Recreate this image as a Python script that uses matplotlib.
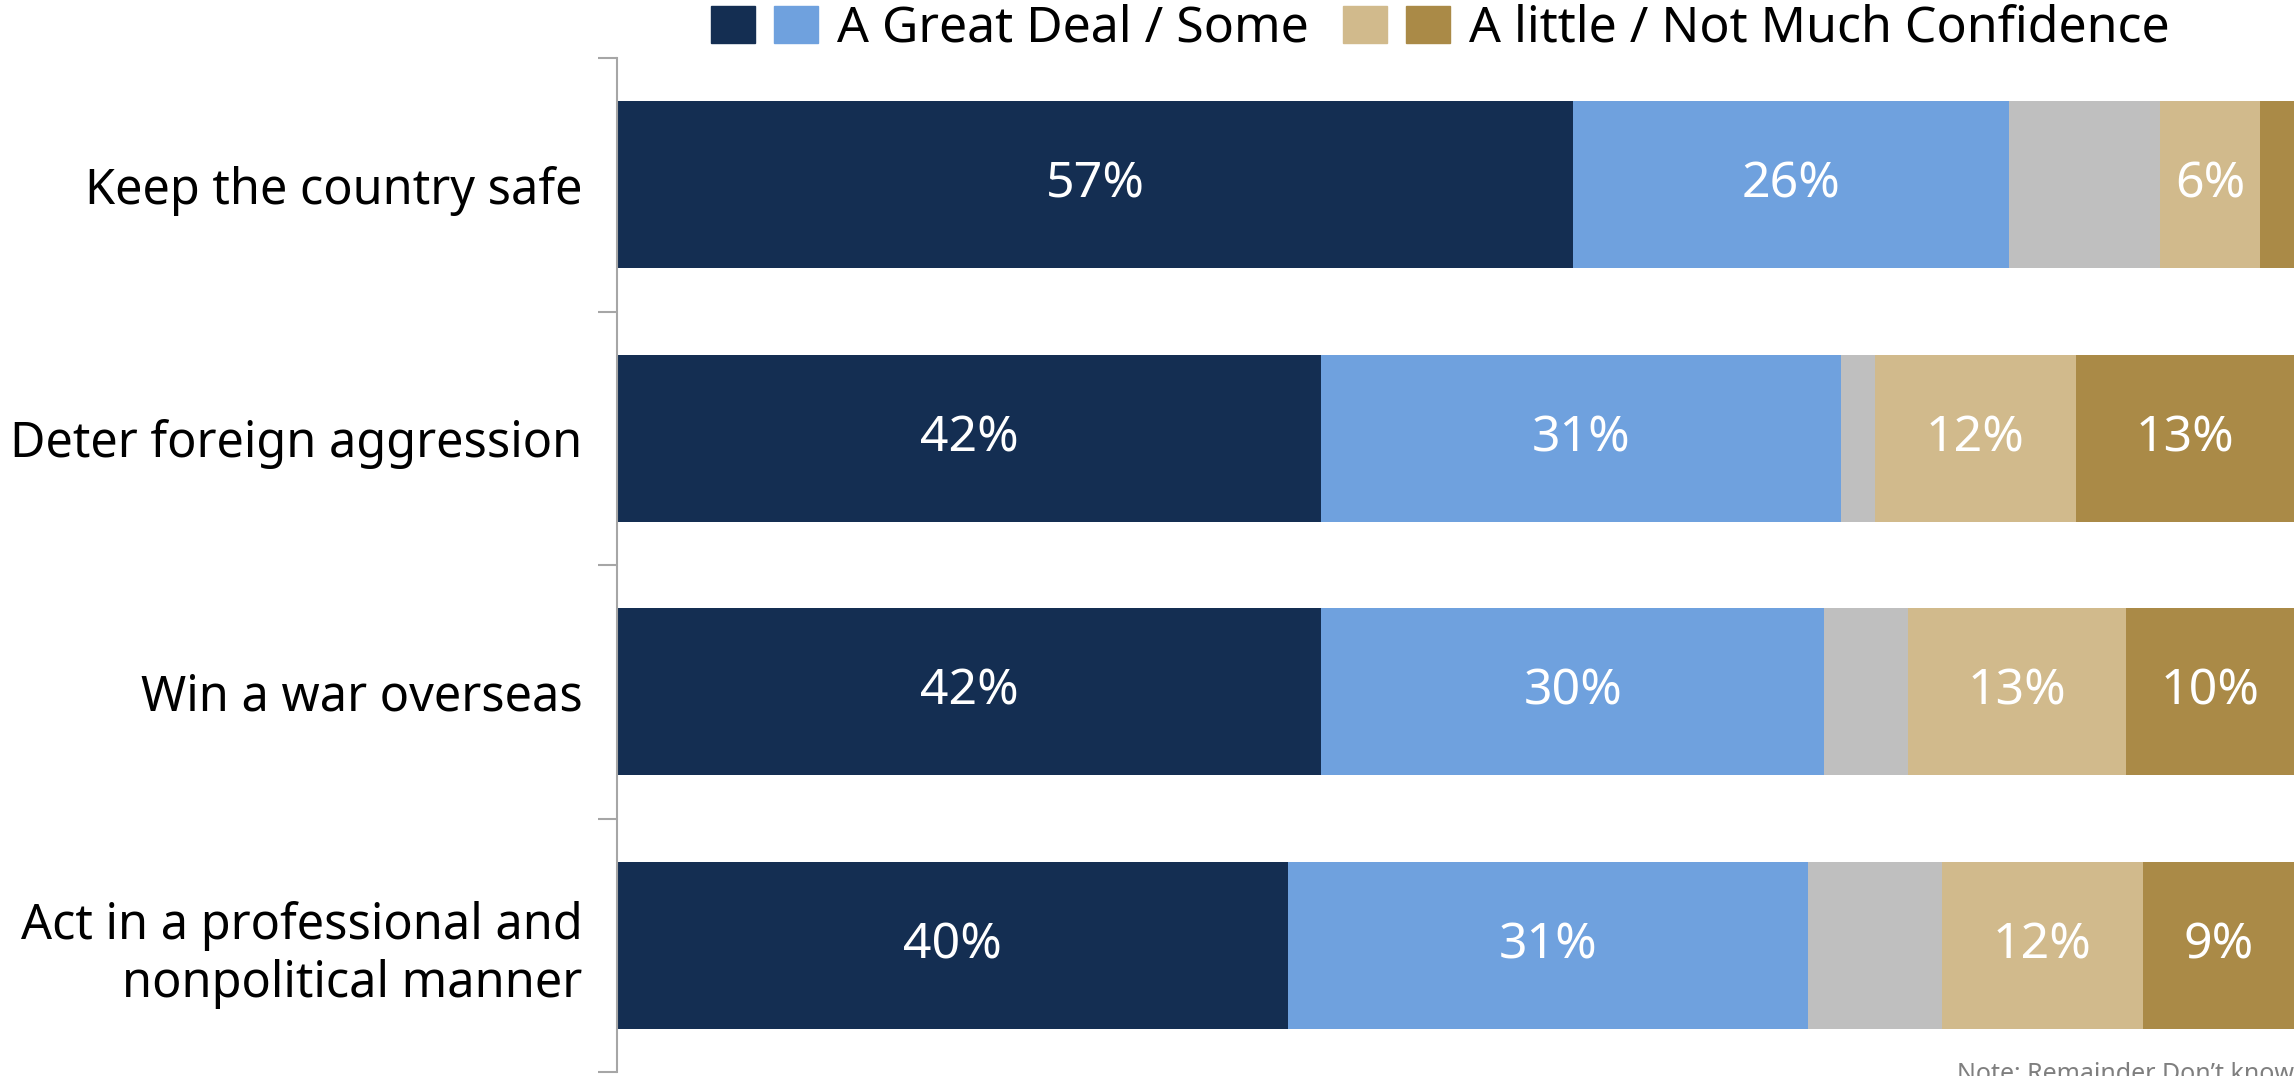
import matplotlib.pyplot as plt
from matplotlib.legend_handler import HandlerTuple
from matplotlib.patches import Patch

plt.rcParams['font.family'] = ['Noto Sans', 'DejaVu Sans']

categories = ['Keep the country safe', 'Deter foreign aggression',
              'Win a war overseas', 'Act in a professional and\nnonpolitical manner']
great_deal = [57, 42, 42, 40]
some = [26, 31, 30, 31]
dont_know = [9, 2, 5, 8]
a_little = [6, 12, 13, 12]
not_much = [2, 13, 10, 9]

series = [great_deal, some, dont_know, a_little, not_much]
colors = ['#142e52', '#6fa1de', '#bfbfbf', '#d1ba8c', '#aa8a47']
labelled = [True, True, False, True, True]

fig = plt.figure(figsize=(22.94, 10.76), dpi=100)
ax = fig.add_axes([617 / 2294, 4 / 1076, 1 - 617 / 2294, 1014 / 1076])

y = list(range(len(categories)))
left = [0] * len(categories)
for vals, col, lab in zip(series, colors, labelled):
    ax.barh(y, vals, left=left, height=0.66, color=col, edgecolor='none')
    if lab:
        for yi, l, v in zip(y, left, vals):
            if v >= 5:
                ax.text(l + v / 2, yi, f'{v}%', ha='center', va='center',
                        color='white', fontsize=36)
    left = [a + b for a, b in zip(left, vals)]

ax.set_xlim(0, 100)
ax.set_ylim(3.5, -0.5)
ax.set_xticks([])
ax.set_yticks(y)
ax.set_yticklabels(categories, fontsize=35, ha='right', multialignment='right')
ax.tick_params(axis='y', which='major', length=0, pad=25)
ax.set_yticks([-0.5, 0.5, 1.5, 2.5, 3.5], minor=True)
ax.tick_params(axis='y', which='minor', length=14, width=1.5, color='#a6a6a6')
for s in ['top', 'right', 'bottom']:
    ax.spines[s].set_visible(False)
ax.spines['left'].set_color('#a6a6a6')
ax.spines['left'].set_linewidth(1.5)

h1 = (Patch(color=colors[0]), Patch(color=colors[1]))
h2 = (Patch(color=colors[3]), Patch(color=colors[4]))
fig.legend([h1, h2], ['A Great Deal / Some', 'A little / Not Much Confidence'],
           handler_map={tuple: HandlerTuple(ndivide=None, pad=0.38)},
           loc='center', bbox_to_anchor=(1440 / 2294, 1 - 29 / 1076),
           ncol=2, frameon=False, fontsize=36, handlelength=2.14, handleheight=0.74,
           handletextpad=0.38, columnspacing=0.68, borderaxespad=0)

fig.text(1957 / 2294, 1 - 1062 / 1076, 'Note: Remainder Don\u2019t know',
         fontsize=18, color='#7f7f7f', va='top', ha='left')

fig.savefig('out.png', dpi=100)
